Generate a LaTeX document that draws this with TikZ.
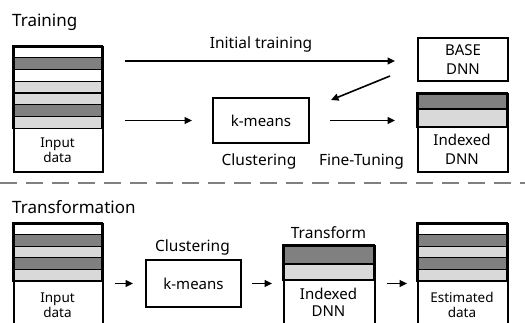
\documentclass[tikz,border=0pt]{standalone}
\usepackage{fontspec}
\setmainfont{Noto Sans}
\usetikzlibrary{arrows.meta,calc}
\definecolor{darkband}{HTML}{808080}
\definecolor{lightband}{HTML}{D9D9D9}
\definecolor{divider}{HTML}{808080}
\tikzset{
  frame/.style={draw, line width=2pt, rectangle, inner sep=0pt, anchor=north west},
  band/.style={draw, line width=1.2pt},
  arr/.style={line width=1.6pt, -{Triangle[length=7.5pt,width=7pt]}},
  head/.style={font=\fontsize{17}{20}\selectfont, anchor=base west, inner sep=0pt},
  lab/.style={font=\fontsize{15.5}{18}\selectfont, anchor=base, inner sep=0pt},
  boxtxt/.style={font=\fontsize{15}{19}\selectfont, align=center, inner sep=0pt},
  smalltxt/.style={font=\fontsize{13.5}{15.5}\selectfont, align=center, inner sep=0pt},
}
\begin{document}
\begin{tikzpicture}[x=1pt,y=-1pt]
\useasboundingbox (0,0) rectangle (525,322);

% ---------------- Training ----------------
\node[head] (trainhead) at (12,26) {Training};

% input data stack
\foreach \t/\c in {46/white,57.76/darkband,69.52/white,81.28/lightband,93.04/lightband,104.8/darkband,116.56/lightband}
  \draw[band, fill=\c] (13,\t) rectangle (102,\t+11.76);
\node[frame, minimum width=89pt, minimum height=125pt] (in1) at (13,46) {};
\node[smalltxt] (in1t) at (57.5,150) {Input\\data};

% base network
\node[frame, minimum width=90pt, minimum height=43pt, boxtxt] (base) at (417,37) {BASE\\DNN};

% clustering box
\node[frame, minimum width=96pt, minimum height=45pt, font=\fontsize{15}{18}\selectfont] (km1) at (212,97) {k-means};

% indexed network
\draw[band, fill=darkband] (417,93) rectangle (507,109);
\draw[band, fill=lightband] (417,109) rectangle (507,127);
\node[frame, minimum width=90pt, minimum height=78pt] (idx1) at (417,93) {};
\node[boxtxt] (idx1t) at (462,149.5) {Indexed\\DNN};

% labels
\node[lab] (inittxt) at (261,48) {Initial training};
\node[lab] (clust1) at (259,165) {Clustering};
\node[lab] (fine) at (361.5,165) {Fine-Tuning};

% connectors
\draw[arr] ($(in1.east |- base.west)+(21,1.5)$) -- ($(base.west)+(-22,1.5)$);
\draw[arr] ($(in1.east |- km1.west)+(21,0)$) -- ($(km1.west)+(-20,0)$);
\draw[arr] ($(km1.east)+(20,0)$) -- ($(idx1.west |- km1.east)+(-22,0)$);
\draw[arr] ($(base.south west)+(-27,-6)$) -- ($(km1.north east)+(21,3)$);

% divider
\draw[divider, line width=1.8pt, dash pattern=on 17pt off 9pt] (0,183) coordinate (divl) -- (525,183) coordinate (divr);

% ---------------- Transformation ----------------
\node[head] (transhead) at (12,213) {Transformation};

% input data stack
\foreach \t/\c in {223/white,234.6/darkband,246.2/lightband,257.8/darkband,269.4/lightband}
  \draw[band, fill=\c] (13,\t) rectangle (102,\t+11.6);
\node[frame, minimum width=89pt, minimum height=117pt] (in2) at (13,223) {};
\node[smalltxt] (in2t) at (57.5,305) {Input\\data};

% clustering box
\node[frame, minimum width=95pt, minimum height=47pt, font=\fontsize{15}{18}\selectfont] (km2) at (145,259) {k-means};
\node[lab] (clust2) at (192.5,251) {Clustering};

% indexed network
\draw[band, fill=darkband] (283,245) rectangle (374,264);
\draw[band, fill=lightband] (283,264) rectangle (374,280);
\node[frame, minimum width=91pt, minimum height=95pt] (idx2) at (283,245) {};
\node[boxtxt, font=\fontsize{15}{17}\selectfont] (idx2t) at (328.5,302.5) {Indexed\\DNN};
\node[lab] (transf) at (328.5,238) {Transform};

% estimated data stack
\foreach \t/\c in {223/white,234.6/darkband,246.2/lightband,257.8/darkband,269.4/lightband}
  \draw[band, fill=\c] (417,\t) rectangle (507,\t+11.6);
\node[frame, minimum width=90pt, minimum height=117pt] (est) at (417,223) {};
\node[smalltxt] (estt) at (462,305) {Estimated\\data};

% connectors
\draw[arr] ($(in2.east |- km2.west)+(11,0)$) -- ($(km2.west)+(-12,0)$);
\draw[arr] ($(km2.east)+(10,0)$) -- ($(idx2.west |- km2.east)+(-11,0)$);
\draw[arr] ($(idx2.east |- km2.east)+(11,0)$) -- ($(est.west |- km2.east)+(-10,0)$);
\end{tikzpicture}
\end{document}
